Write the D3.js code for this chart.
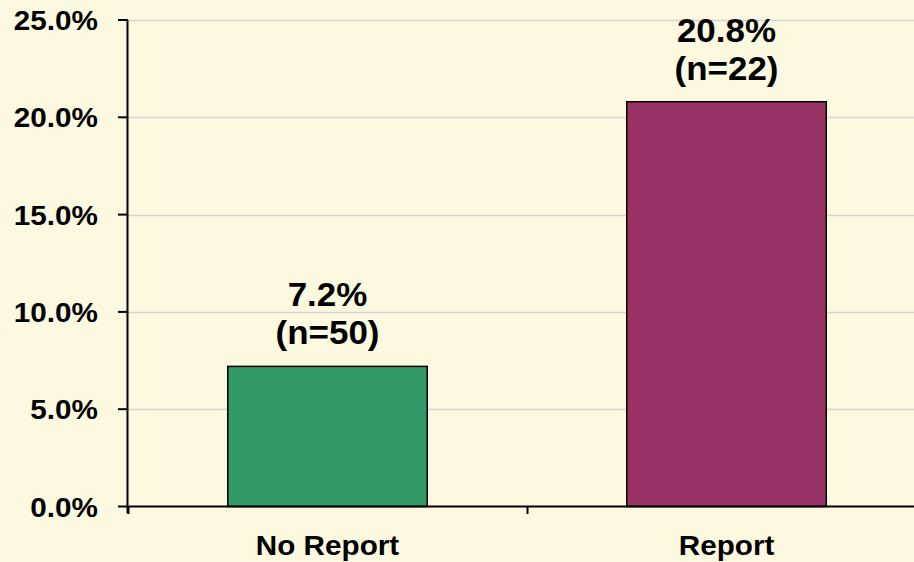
<!DOCTYPE html>
<html>
<head>
<meta charset="utf-8">
<script src="https://cdn.jsdelivr.net/npm/d3@7"></script>
<style>
  html, body { margin: 0; padding: 0; background: #FDF9E0; overflow: hidden; }
  svg { display: block; }
  text { font-family: "Liberation Sans", Arial, sans-serif; font-weight: bold; fill: #000; }
</style>
</head>
<body>
<script>
const categories = ["No Report", "Report"];
const values = [7.2, 20.8];
const counts = [50, 22];
const barColors = ["#339966", "#993366"];
const yTicks = [0, 5, 10, 15, 20, 25];

const W = 914, H = 562;
const svg = d3.select("body").append("svg").attr("width", W).attr("height", H);
svg.append("rect").attr("width", W).attr("height", H).attr("fill", "#FDF9E0");

const x = d3.scaleBand().domain(categories).range([128, 926]).paddingInner(0.5).paddingOuter(0.25);
const y = d3.scaleLinear().domain([0, 25]).range([506.5, 20]);
const SX = 1.06;

// gridlines
svg.append("g").selectAll("line").data(yTicks.filter(t => t > 0)).join("line")
  .attr("x1", 128).attr("x2", W)
  .attr("y1", d => Math.round(y(d)) + 0.5).attr("y2", d => Math.round(y(d)) + 0.5)
  .attr("stroke", "#D4D4D0").attr("stroke-width", 1.5);

// bars
svg.append("g").selectAll("rect").data(categories).join("rect")
  .attr("x", d => x(d)).attr("width", x.bandwidth())
  .attr("y", (d, i) => y(values[i])).attr("height", (d, i) => y(0) - y(values[i]))
  .attr("fill", (d, i) => barColors[i]).attr("stroke", "#000").attr("stroke-width", 1.5);

// y axis
const yAxis = svg.append("g");
yAxis.append("line").attr("x1", 127.5).attr("x2", 127.5).attr("y1", y(25)).attr("y2", 513.5)
  .attr("stroke", "#000").attr("stroke-width", 2);
yAxis.selectAll("line.tick").data(yTicks).join("line").attr("class", "tick")
  .attr("x1", 118).attr("x2", 128)
  .attr("y1", d => y(d)).attr("y2", d => y(d))
  .attr("stroke", "#000").attr("stroke-width", 2);
yAxis.selectAll("text").data(yTicks).join("text")
  .attr("transform", d => `translate(98,${y(d) + 10}) scale(${SX},1)`)
  .attr("text-anchor", "end")
  .style("font-size", "28px")
  .text(d => d.toFixed(1) + "%");

// x axis
const xAxis = svg.append("g");
xAxis.append("line").attr("x1", 127).attr("x2", W).attr("y1", y(0)).attr("y2", y(0))
  .attr("stroke", "#000").attr("stroke-width", 2);
const bounds = d3.range(categories.length + 1).map(i => x.range()[0] + i * x.step());
xAxis.selectAll("line.tick").data(bounds).join("line").attr("class", "tick")
  .attr("x1", d => d + 0.5).attr("x2", d => d + 0.5)
  .attr("y1", y(0)).attr("y2", 514)
  .attr("stroke", "#000").attr("stroke-width", 2);
xAxis.selectAll("text").data(categories).join("text")
  .attr("transform", d => `translate(${x(d) + x.bandwidth() / 2},555) scale(${SX},1)`)
  .attr("text-anchor", "middle")
  .style("font-size", "28px")
  .text(d => d);

// data labels
const lab = svg.append("g").selectAll("g").data(categories).join("g");
lab.append("text")
  .attr("transform", (d, i) => `translate(${x(d) + x.bandwidth() / 2},${y(values[i]) - 60}) scale(${SX},1)`)
  .attr("text-anchor", "middle").style("font-size", "33px")
  .text((d, i) => values[i].toFixed(1) + "%");
lab.append("text")
  .attr("transform", (d, i) => `translate(${x(d) + x.bandwidth() / 2},${y(values[i]) - 22}) scale(${SX},1)`)
  .attr("text-anchor", "middle").style("font-size", "33px")
  .text((d, i) => `(n=${counts[i]})`);
</script>
</body>
</html>
